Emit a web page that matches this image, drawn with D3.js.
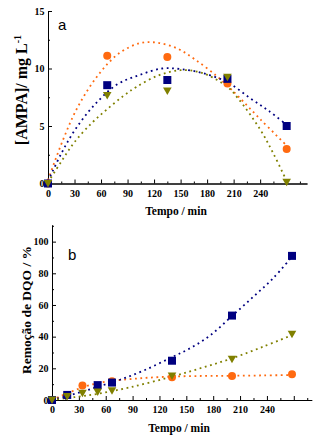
<!DOCTYPE html>
<html>
<head>
<meta charset="utf-8">
<script src="https://cdn.jsdelivr.net/npm/d3@7"></script>
<style>
  html, body { margin: 0; padding: 0; background: #fff; }
  svg { display: block; }
  .tick text { font-family: "Liberation Serif", serif; font-weight: bold; font-size: 10px; fill: #000; }
  .title { font-family: "Liberation Serif", serif; font-weight: bold; fill: #000; }
  .tag { font-family: "Liberation Sans", sans-serif; font-size: 15px; fill: #000; }
</style>
</head>
<body>
<script>
// Panel a: [AMPA] vs time
const timeA = [0, 67, 135, 203, 270];
const ampaCircle = [0, 11.1, 11.0, 8.7, 3.0];
const ampaSquare = [0, 8.55, 9.0, 9.1, 5.0];
const ampaTriangle = [0, 7.65, 8.05, 9.25, 0.1];

// dotted fit curves
const ampaFitCircle = [[0, 0.3], [17, 3.8], [34, 6.7], [57, 9.45], [80, 11.3], [104, 12.2], [123, 12.25],
  [146, 11.75], [166, 10.8], [190, 9.4], [203, 8.5], [215, 7.6], [240, 5.6], [270, 3.3]];
const ampaFitSquare = [[0, 0.2], [15, 2.6], [30, 4.6], [51, 6.7], [78, 8.6], [104, 9.45], [129, 10.0],
  [150, 9.95], [175, 9.6], [203, 8.8], [229, 7.4], [250, 6.3], [270, 5.1]];
const ampaFitTriangle = [[0, 0.1], [15, 1.9], [30, 3.6], [50, 5.3], [66, 6.4], [85, 7.6], [100, 8.4],
  [125, 9.4], [150, 9.85], [175, 9.6], [203, 8.4], [215, 7.4], [240, 4.7], [255, 2.6], [270, 0.2]];

// Panel b: DQO removal vs time
const timeBSquare = [0, 17, 51, 67, 134, 201, 268];
const dqoSquare = [0, 3.2, 9.4, 11.0, 24.8, 53.3, 91];
const timeBCircle = [0, 34, 67, 134, 201, 268];
const dqoCircle = [0, 9.1, 11.8, 14.3, 15.2, 16.3];
const timeBTriangle = [0, 17, 34, 51, 67, 134, 201, 268];
const dqoTriangle = [0, 2.2, 4.3, 5.0, 5.8, 15.2, 25.8, 41.5];

const dqoFitSquare = [[0, 0], [17, 2.5], [34, 5.3], [51, 8.3], [76, 12.8], [102, 18.5], [132, 26.5],
  [154, 32.6], [176, 40.5], [201, 53], [225, 65.3], [247, 76.9], [268, 90.5]];
const dqoFitCircle = [[0, 0], [17, 4.2], [34, 8], [50, 10.5], [67, 12], [98, 13.7], [134, 14.8],
  [170, 15.2], [201, 15.3], [235, 15.5], [268, 15.8]];
const dqoFitTriangle = [[0, 0], [25, 1.8], [50, 3.8], [87, 8], [134, 14.8], [169, 20.6], [201, 26.3],
  [235, 33.5], [268, 41]];

const xMajor = [0, 30, 60, 90, 120, 150, 180, 210, 240, 270];
const xMinor = [15, 45, 75, 105, 135, 165, 195, 225, 255, 285];

const BLUE = "#000080", ORANGE = "#ff6a10", OLIVE = "#808000";

const svg = d3.select("body").append("svg").attr("width", 321).attr("height", 439);

function drawPanel(p) {
  const g = svg.append("g");
  const x = d3.scaleLinear().domain(p.xDomain).range(p.xRange);
  const y = d3.scaleLinear().domain(p.yDomain).range(p.yRange);
  const y0 = p.yRange[0];

  g.append("g").attr("transform", `translate(0,${y0})`)
    .call(d3.axisBottom(x).tickValues(xMinor).tickSize(-2).tickSizeOuter(0).tickFormat(""));
  g.append("g").attr("transform", `translate(0,${y0})`)
    .call(d3.axisBottom(x).tickValues(xMajor).tickSize(-4).tickSizeOuter(0).tickPadding(6)
      .tickFormat(d => d <= 240 ? d : ""));
  g.append("g").attr("transform", `translate(${p.xRange[0]},0)`)
    .call(d3.axisLeft(y).tickValues(p.yMinor).tickSize(-2).tickSizeOuter(0).tickFormat(""));
  g.append("g").attr("transform", `translate(${p.xRange[0]},0)`)
    .call(d3.axisLeft(y).tickValues(p.yMajor).tickSize(-4).tickSizeOuter(0).tickPadding(3.5));
  g.selectAll(".domain, .tick line").attr("stroke", "#000");

  const line = d3.line().x(d => x(d[0])).y(d => y(d[1])).curve(d3.curveCatmullRom.alpha(0.5));
  p.fits.forEach(f => {
    g.append("path").datum(f.pts)
      .attr("fill", "none").attr("stroke", f.color)
      .attr("stroke-width", 1.8).attr("stroke-dasharray", "1.8 3.6")
      .attr("d", line);
  });

  const circ = d3.zip(p.circle.t, p.circle.v);
  g.selectAll(null).data(circ).join("circle")
    .attr("cx", d => x(d[0])).attr("cy", d => y(d[1])).attr("r", 4)
    .attr("fill", ORANGE);
  const sq = d3.zip(p.square.t, p.square.v);
  g.selectAll(null).data(sq).join("rect")
    .attr("x", d => x(d[0]) - 4).attr("y", d => y(d[1]) - 4)
    .attr("width", 8).attr("height", 8).attr("fill", BLUE);
  const tri = d3.zip(p.triangle.t, p.triangle.v);
  g.selectAll(null).data(tri).join("path")
    .attr("transform", d => `translate(${x(d[0])},${y(d[1])})`)
    .attr("d", "M-4.3,-3.5L4.3,-3.5L0,4Z").attr("fill", OLIVE);

  g.append("text").attr("class", "tag").attr("x", p.tag.x).attr("y", p.tag.y).text(p.tag.text);
  g.append("text").attr("class", "title").attr("font-size", 11.5)
    .attr("text-anchor", "middle").attr("x", p.xTitle.x).attr("y", p.xTitle.y).text("Tempo / min");
  const yt = g.append("text").attr("class", "title").attr("font-size", p.yTitle.size)
    .attr("text-anchor", "middle")
    .attr("transform", `translate(${p.yTitle.x},${p.yTitle.y}) rotate(-90)`);
  p.yTitle.build(yt);
}

drawPanel({
  xDomain: [0, 293], xRange: [48, 307],
  yDomain: [0, 15], yRange: [183.5, 11],
  yMajor: [0, 5, 10, 15], yMinor: [2.5, 7.5, 12.5],
  circle: { t: timeA, v: ampaCircle },
  square: { t: timeA, v: ampaSquare },
  triangle: { t: timeA, v: ampaTriangle },
  fits: [
    { pts: ampaFitCircle, color: ORANGE },
    { pts: ampaFitSquare, color: BLUE },
    { pts: ampaFitTriangle, color: OLIVE },
  ],
  tag: { x: 58, y: 30, text: "a" },
  xTitle: { x: 176, y: 215 },
  yTitle: {
    x: 27, y: 90, size: 16,
    build: t => {
      t.append("tspan").text("[AMPA]/ mg L");
      t.append("tspan").attr("font-size", 10).attr("dy", -6).text("-1");
    }
  },
});

drawPanel({
  xDomain: [0, 290], xRange: [52, 311.7],
  yDomain: [0, 110.5], yRange: [400, 225],
  yMajor: [0, 20, 40, 60, 80, 100], yMinor: [10, 30, 50, 70, 90, 110],
  circle: { t: timeBCircle, v: dqoCircle },
  square: { t: timeBSquare, v: dqoSquare },
  triangle: { t: timeBTriangle, v: dqoTriangle },
  fits: [
    { pts: dqoFitCircle, color: ORANGE },
    { pts: dqoFitSquare, color: BLUE },
    { pts: dqoFitTriangle, color: OLIVE },
  ],
  tag: { x: 68, y: 260, text: "b" },
  xTitle: { x: 179, y: 432 },
  yTitle: {
    x: 31, y: 310, size: 13.5,
    build: t => t.text("Remoção de DQO / %")
  },
});
</script>
</body>
</html>
